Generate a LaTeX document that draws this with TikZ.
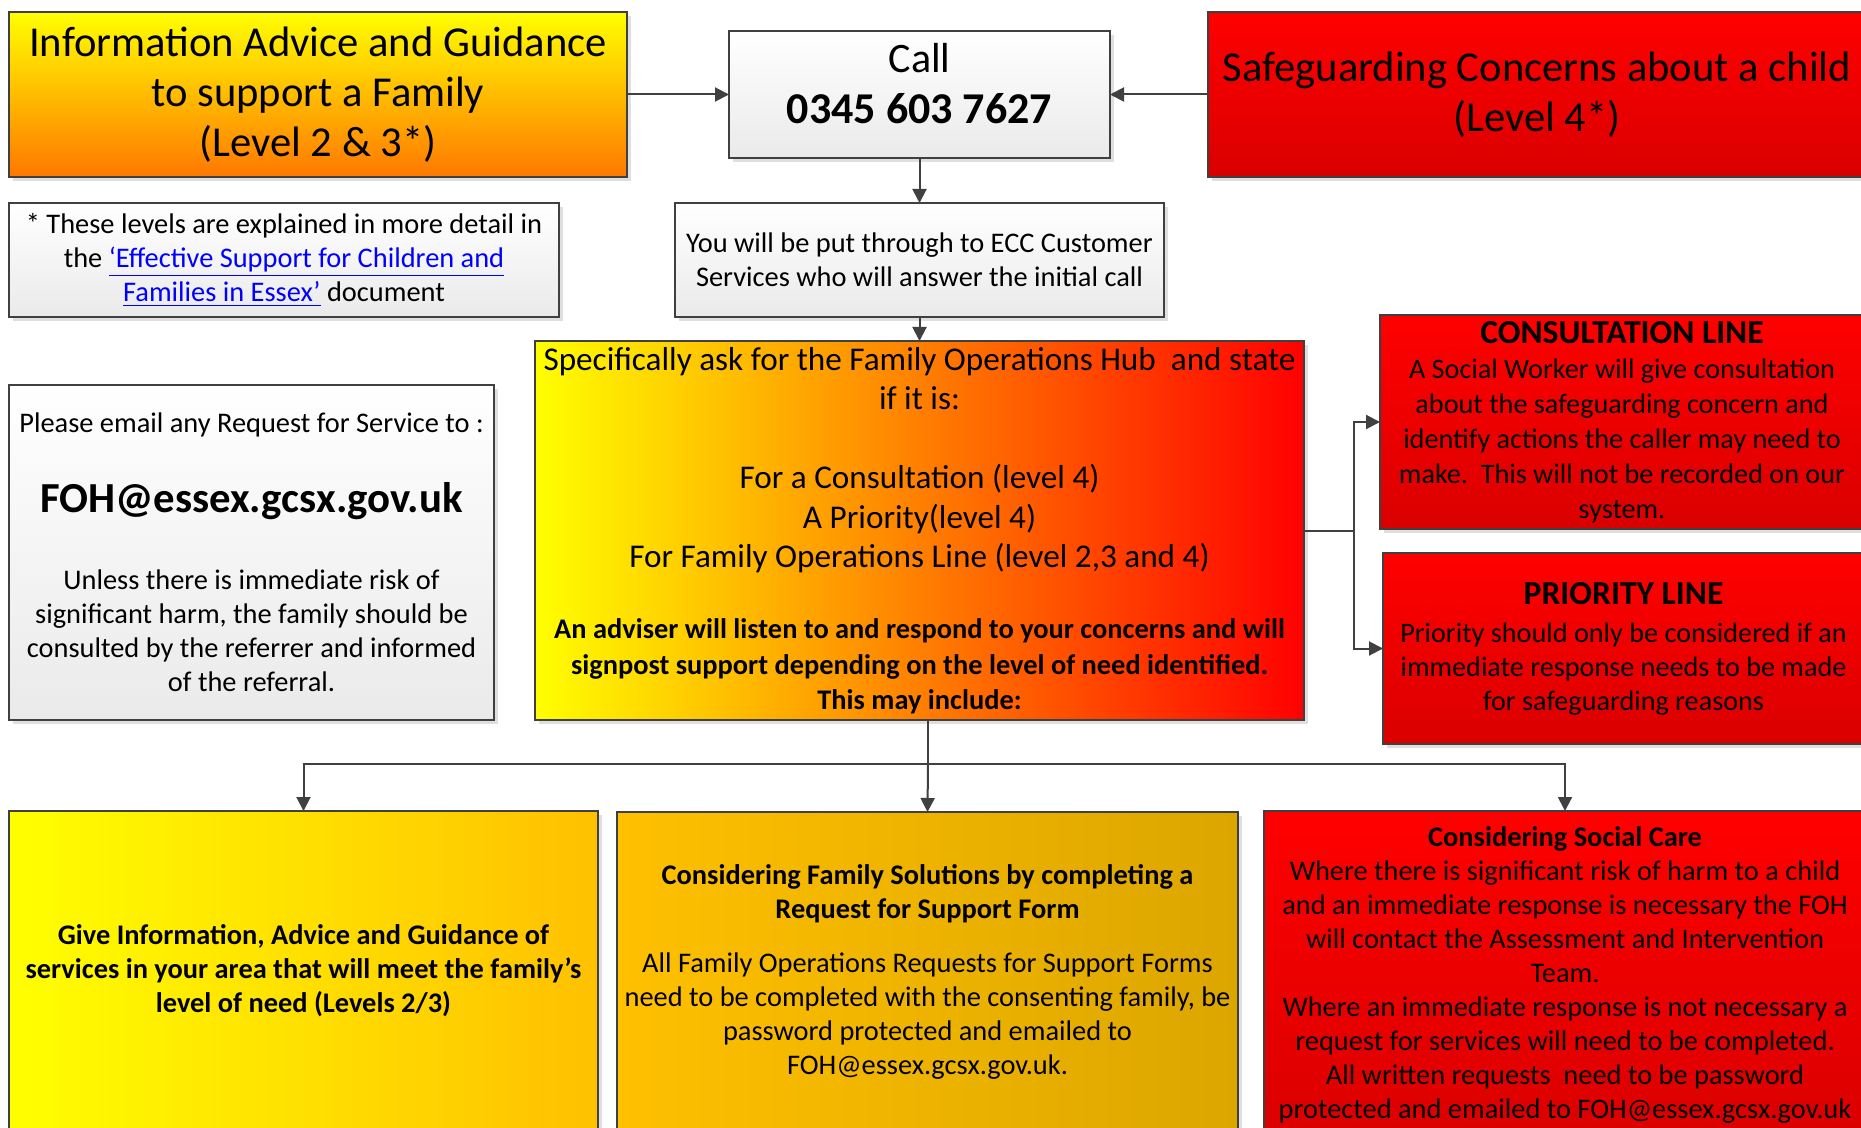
\documentclass[tikz,border=0pt]{standalone}
\usepackage{fontspec}
\setmainfont{Carlito}
\usetikzlibrary{positioning,shadings,shadows,arrows.meta}
\definecolor{boxline}{HTML}{404040}
\definecolor{greybot}{HTML}{EAEAEA}
\definecolor{yel}{HTML}{FFFF00}
\definecolor{amber}{HTML}{FFC000}
\definecolor{deepamber}{HTML}{DCA600}
\definecolor{orng}{HTML}{FF7800}
\definecolor{midorng}{HTML}{FF8C00}
\definecolor{redtop}{HTML}{FF0000}
\definecolor{redbot}{HTML}{DA0000}
\tikzset{
	flowbox/.style={rectangle,draw=boxline,line width=1pt,inner sep=2pt,outer sep=0pt,align=center,
		drop shadow={shadow xshift=2pt,shadow yshift=-2pt,opacity=0.25}},
	greybox/.style={flowbox,top color=white,bottom color=greybot},
	redbox/.style={flowbox,top color=redtop,bottom color=redbot},
	link/.style={color=boxline,line width=1pt},
	dirlink/.style={->,>={Triangle[width=7pt,length=7pt]},color=boxline,line width=1pt}
}

\begin{document}
\begin{tikzpicture}[x=0.5pt,y=-0.5pt]
	\useasboundingbox[fill=white] (0,0) rectangle (1861,1128);
	
	\node [flowbox,top color=yel,bottom color=orng,minimum width=309pt,minimum height=82.5pt,font=\fontsize{21.3}{25}\selectfont] (iag) at (318,94.5)
		{Information Advice and Guidance\\to support a Family\\(Level 2 \& 3*)};
	\node [greybox,minimum width=190.5pt,minimum height=63.5pt,font=\fontsize{21}{25.5}\selectfont] (call) at (919.5,94.5)
		{Call\\{\fontsize{22}{25.5}\selectfont\bfseries 0345 603 7627}\\[-14pt]\mbox{}};
	\node [redbox,minimum width=329pt,minimum height=82.5pt,font=\fontsize{21.3}{25}\selectfont] (safe) at (1537,94.5)
		{Safeguarding Concerns about a child\\(Level 4*)};
	
	\node [greybox,minimum width=275pt,minimum height=57pt,font=\fontsize{14.2}{17}\selectfont] (levels) at (284,260)
		{* These levels are explained in more detail in\\the \textcolor{blue}{\underline{‘Effective Support for Children and}}\\\textcolor{blue}{\underline{Families in Essex’}} document};
	\node [greybox,minimum width=244.5pt,minimum height=57pt,font=\fontsize{14.2}{17}\selectfont] (ecc) at (919.5,260)
		{You will be put through to ECC Customer\\Services who will answer the initial call};
	
	\node [greybox,minimum width=242.5pt,minimum height=167.5pt,font=\fontsize{14.2}{17}\selectfont] (email) at (251.5,552.5)
		{Please email any Request for Service to :\\[21.5pt]
		{\fontsize{21.4}{24}\selectfont\bfseries FOH@essex.gcsx.gov.uk}\\[21.5pt]
		Unless there is immediate risk of\\significant harm, the family should be\\consulted by the referrer and informed\\of the referral.};
	\node [flowbox,left color=yel,middle color=midorng,right color=redtop,minimum width=384.5pt,minimum height=189.5pt,font=\fontsize{16.6}{17.75}\selectfont] (hub) at (919.5,530.5)
		{Specifically ask for the Family Operations Hub\ \ and state\\[2pt]
		if it is:\\[21.75pt]
		For a Consultation (level 4)\\[2pt]
		A Priority(level 4)\\[2pt]
		For Family Operations Line (level 2,3 and 4)\\[17.75pt]
		{\bfseries\fontsize{14.2}{17.75}\selectfont An adviser will listen to and respond to your concerns and will}\\
		{\bfseries\fontsize{14.2}{17.75}\selectfont signpost support depending on the level of need identified.}\\
		{\bfseries\fontsize{14.2}{17.75}\selectfont This may include:}};
	
	\node [redbox,minimum width=242pt,minimum height=107pt,font=\fontsize{14.1}{17.5}\selectfont] (consult) at (1622,422)
		{{\bfseries\fontsize{16.8}{17.5}\selectfont CONSULTATION LINE}\\
		A Social Worker will give consultation\\about the safeguarding concern and\\identify actions the caller may need to\\make.\ \ This will not be recorded on our\\system.};
	\node [redbox,minimum width=240.5pt,minimum height=95.5pt,font=\fontsize{14.1}{17}\selectfont] (priority) at (1623.5,648.5)
		{{\bfseries\fontsize{16.8}{17}\selectfont PRIORITY LINE}\\[2pt]
		Priority should only be considered if an\\immediate response needs to be made\\for safeguarding reasons};
	
	\node [flowbox,left color=yel,right color=amber,minimum width=294.5pt,minimum height=160pt,font=\fontsize{14.2}{17}\selectfont\bfseries] (advice) at (303.5,971)
		{Give Information, Advice and Guidance of\\services in your area that will meet the family’s\\level of need (Levels 2/3)};
	\node [flowbox,left color=amber,right color=deepamber,minimum width=310.5pt,minimum height=160pt,font=\fontsize{14.2}{17}\selectfont] (solutions) at (927.5,972)
		{{\bfseries Considering Family Solutions by completing a}\\
		{\bfseries Request for Support Form}\\[10pt]
		All Family Operations Requests for Support Forms\\need to be completed with the consenting family, be\\password protected and emailed to\\FOH@essex.gcsx.gov.uk.};
	\node [redbox,minimum width=301pt,minimum height=164pt,inner sep=1pt,font=\fontsize{14.2}{17}\selectfont] (social) at (1565,975)
		{{\bfseries Considering Social Care}\\
		Where there is significant risk of harm to a child\\and an immediate response is necessary the FOH\\will contact the Assessment and Intervention\\Team.\\
		Where an immediate response is not necessary a\\request for services will need to be completed.\\All written requests\ \ need to be password\\protected and emailed to FOH@essex.gcsx.gov.uk};
	
	\draw [dirlink] (iag) -- (call);
	\draw [dirlink] (safe) -- (call);
	\draw [dirlink] (call) -- (ecc);
	\draw [dirlink] (ecc) -- (hub);
	
	\coordinate (split) at (1354,530.5);
	\draw [link] (hub.east) -- (split);
	\draw [dirlink] (split) |- (consult.west);
	\draw [dirlink] (split) |- (priority.west);
	
	\coordinate (bus) at (928,764);
	\draw [link] (hub.south -| bus) -- (bus);
	\draw [dirlink] (bus) -| (advice.north);
	\draw [dirlink] (bus) -- (solutions.north);
	\draw [dirlink] (bus) -| (social.north);
	
\end{tikzpicture}
\end{document}
